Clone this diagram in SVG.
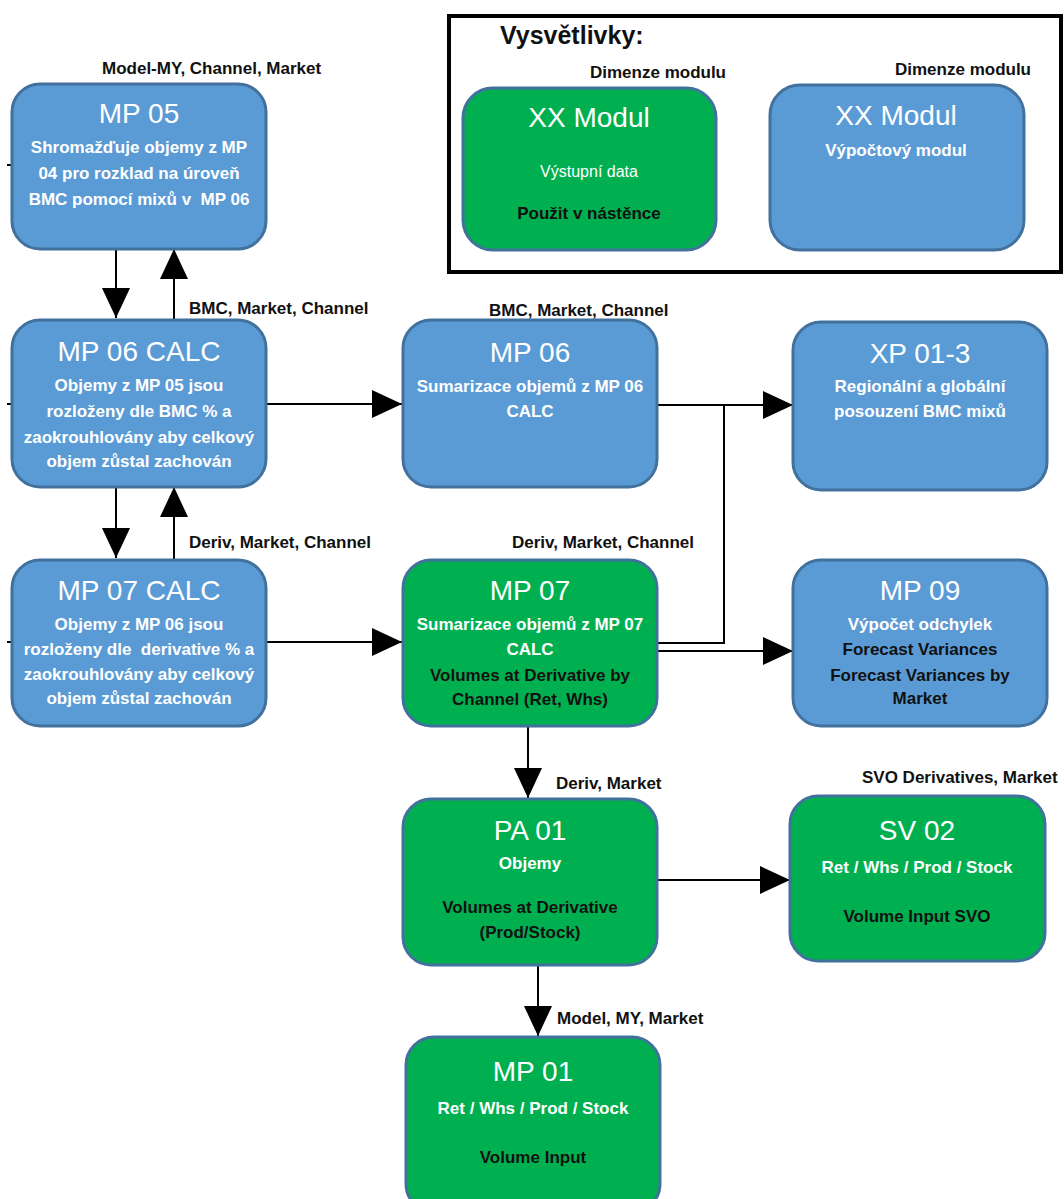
<svg xmlns="http://www.w3.org/2000/svg" width="1064" height="1199" viewBox="0 0 1064 1199">
<style>
.blue{fill:#5B9BD5;stroke:#41719C;stroke-width:3}
.green{fill:#00B050;stroke:#41719C;stroke-width:3}
.t{font-family:"Liberation Sans",Arial,sans-serif;font-size:28px;fill:#fff;text-anchor:middle}
.w{font-family:"Liberation Sans",Arial,sans-serif;font-size:17px;font-weight:bold;fill:#fff;text-anchor:middle;white-space:pre}
.k{font-family:"Liberation Sans",Arial,sans-serif;font-size:17px;font-weight:bold;fill:#111;text-anchor:middle}
.lbl{font-family:"Liberation Sans",Arial,sans-serif;font-size:17px;font-weight:bold;fill:#111}
.c{fill:none;stroke:#000;stroke-width:2}
</style>
<defs>
<marker id="ah" markerUnits="userSpaceOnUse" markerWidth="30" markerHeight="28" refX="30" refY="14" orient="auto">
<path d="M0,0 L30,14 L0,28 z" fill="#000"/>
</marker>
</defs>
<rect width="1064" height="1199" fill="#fff"/>

<g id="legend">
<rect x="449" y="16" width="612" height="256" fill="#fff" stroke="#000" stroke-width="4"/>
<text x="500" y="44" font-family="Liberation Sans,Arial,sans-serif" font-size="25" font-weight="bold" fill="#111">Vysvětlivky:</text>
<text class="lbl" x="590" y="78">Dimenze modulu</text>
<text class="lbl" x="895" y="75">Dimenze modulu</text>
<rect class="green" x="463" y="88" width="253" height="162" rx="30"/>
<text class="t" x="589" y="127">XX Modul</text>
<text x="589" y="177" font-family="Liberation Sans,Arial,sans-serif" font-size="16" fill="#fff" text-anchor="middle">Výstupní data</text>
<text class="k" x="589" y="219">Použit v nástěnce</text>
<rect class="blue" x="770" y="85" width="254" height="165" rx="30"/>
<text class="t" x="896" y="125">XX Modul</text>
<text class="w" x="896" y="156">Výpočtový modul</text>
</g>

<g id="connectors">
<line class="c" x1="116" y1="249" x2="116" y2="318" marker-end="url(#ah)"/>
<line class="c" x1="174" y1="320" x2="174" y2="249" marker-end="url(#ah)"/>
<line class="c" x1="116" y1="487" x2="116" y2="558" marker-end="url(#ah)"/>
<line class="c" x1="174" y1="560" x2="174" y2="487" marker-end="url(#ah)"/>
<line class="c" x1="266" y1="404" x2="402" y2="404" marker-end="url(#ah)"/>
<line class="c" x1="266" y1="642" x2="402" y2="642" marker-end="url(#ah)"/>
<line class="c" x1="657" y1="405" x2="793" y2="405" marker-end="url(#ah)"/>
<polyline class="c" points="657,643 724,643 724,405"/>
<line class="c" x1="657" y1="651" x2="793" y2="651" marker-end="url(#ah)"/>
<line class="c" x1="528" y1="726" x2="528" y2="798" marker-end="url(#ah)"/>
<line class="c" x1="657" y1="880" x2="790" y2="880" marker-end="url(#ah)"/>
<line class="c" x1="538" y1="965" x2="538" y2="1036" marker-end="url(#ah)"/>
<line class="c" x1="7" y1="165" x2="12" y2="165"/>
<line class="c" x1="7" y1="404" x2="12" y2="404"/>
<line class="c" x1="7" y1="642" x2="12" y2="642"/>
</g>

<g id="labels">
<text class="lbl" x="102" y="74">Model-MY, Channel, Market</text>
<text class="lbl" x="189" y="314">BMC, Market, Channel</text>
<text class="lbl" x="489" y="316">BMC, Market, Channel</text>
<text class="lbl" x="189" y="548">Deriv, Market, Channel</text>
<text class="lbl" x="512" y="548">Deriv, Market, Channel</text>
<text class="lbl" x="556" y="789">Deriv, Market</text>
<text class="lbl" x="862" y="783">SVO Derivatives, Market</text>
<text class="lbl" x="557" y="1024">Model, MY, Market</text>
</g>

<g id="mp05">
<rect class="blue" x="12" y="84" width="254" height="165" rx="28"/>
<text class="t" x="139" y="123">MP 05</text>
<text class="w" x="139" y="153">Shromažďuje objemy z MP</text>
<text class="w" x="139" y="179">04 pro rozklad na úroveň</text>
<text class="w" x="139" y="205">BMC pomocí mixů v  MP 06</text>
</g>

<g id="mp06calc">
<rect class="blue" x="12" y="320" width="254" height="167" rx="28"/>
<text class="t" x="139" y="361">MP 06 CALC</text>
<text class="w" x="139" y="391">Objemy z MP 05 jsou</text>
<text class="w" x="139" y="417">rozloženy dle BMC % a</text>
<text class="w" x="139" y="443">zaokrouhlovány aby celkový</text>
<text class="w" x="139" y="467">objem zůstal zachován</text>
</g>

<g id="mp07calc">
<rect class="blue" x="12" y="560" width="254" height="166" rx="28"/>
<text class="t" x="139" y="600">MP 07 CALC</text>
<text class="w" x="139" y="630">Objemy z MP 06 jsou</text>
<text class="w" x="139" y="655">rozloženy dle  derivative % a</text>
<text class="w" x="139" y="680">zaokrouhlovány aby celkový</text>
<text class="w" x="139" y="704">objem zůstal zachován</text>
</g>

<g id="mp06">
<rect class="blue" x="403" y="320" width="254" height="167" rx="28"/>
<text class="t" x="530" y="362">MP 06</text>
<text class="w" x="530" y="392">Sumarizace objemů z MP 06</text>
<text class="w" x="530" y="417">CALC</text>
</g>

<g id="xp013">
<rect class="blue" x="793" y="322" width="254" height="168" rx="28"/>
<text class="t" x="920" y="363">XP 01-3</text>
<text class="w" x="920" y="392">Regionální a globální</text>
<text class="w" x="920" y="417">posouzení BMC mixů</text>
</g>

<g id="mp07">
<rect class="green" x="403" y="560" width="254" height="166" rx="28"/>
<text class="t" x="530" y="600">MP 07</text>
<text class="w" x="530" y="630">Sumarizace objemů z MP 07</text>
<text class="w" x="530" y="655">CALC</text>
<text class="k" x="530" y="681">Volumes at Derivative by</text>
<text class="k" x="530" y="705">Channel (Ret, Whs)</text>
</g>

<g id="mp09">
<rect class="blue" x="793" y="560" width="254" height="166" rx="28"/>
<text class="t" x="920" y="600">MP 09</text>
<text class="w" x="920" y="630">Výpočet odchylek</text>
<text class="k" x="920" y="655">Forecast Variances</text>
<text class="k" x="920" y="681">Forecast Variances by</text>
<text class="k" x="920" y="704">Market</text>
</g>

<g id="pa01">
<rect class="green" x="403" y="799" width="254" height="166" rx="28"/>
<text class="t" x="530" y="840">PA 01</text>
<text class="w" x="530" y="869">Objemy</text>
<text class="k" x="530" y="913">Volumes at Derivative</text>
<text class="k" x="530" y="938">(Prod/Stock)</text>
</g>

<g id="sv02">
<rect class="green" x="790" y="796" width="255" height="165" rx="28"/>
<text class="t" x="917" y="840">SV 02</text>
<text class="w" x="917" y="873">Ret / Whs / Prod / Stock</text>
<text class="k" x="917" y="922">Volume Input SVO</text>
</g>

<g id="mp01">
<rect class="green" x="406" y="1037" width="254" height="175" rx="28"/>
<text class="t" x="533" y="1081">MP 01</text>
<text class="w" x="533" y="1114">Ret / Whs / Prod / Stock</text>
<text class="k" x="533" y="1163">Volume Input</text>
</g>
</svg>
